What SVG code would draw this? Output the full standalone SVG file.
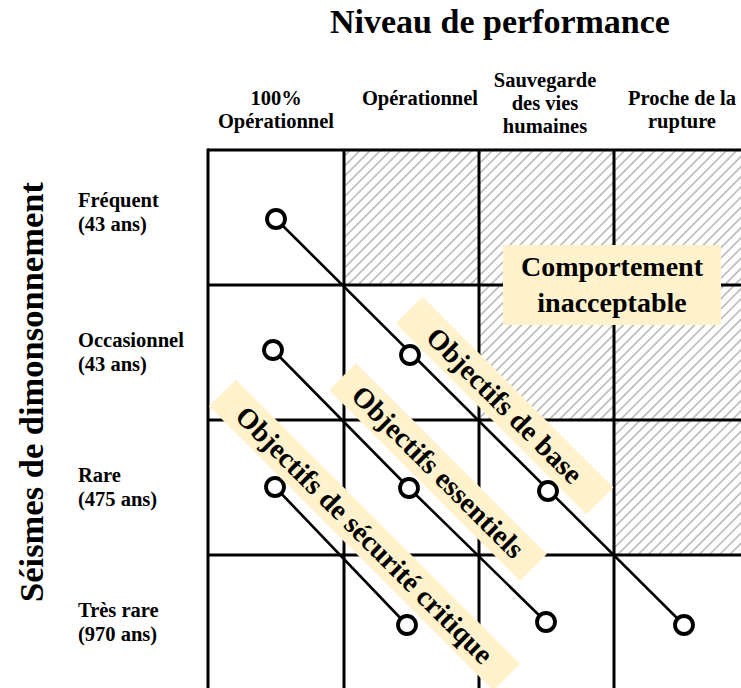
<svg xmlns="http://www.w3.org/2000/svg" width="741" height="688" viewBox="0 0 741 688">
<style>
.t{font-family:"Liberation Serif","Times New Roman",serif;font-weight:bold;fill:#000}
.sm{font-size:20.5px}
.hd{text-anchor:middle}
.grid{stroke:#000;stroke-width:3;fill:none}
.conn{stroke:#000;stroke-width:2.6;fill:none}
.pt{fill:#fff;stroke:#000;stroke-width:3.8}
.box{fill:#FFF2CC}
.lab{font-size:28.5px;text-anchor:middle}
</style>
<defs>
<pattern id="hatch" patternUnits="userSpaceOnUse" width="7.2" height="7.2" patternTransform="rotate(45)">
<line x1="1" y1="-1" x2="1" y2="8.2" stroke="#b4b4b4" stroke-width="1.5"/>
</pattern>
</defs>
<rect width="741" height="688" fill="#fff"/>
<g id="title"><text class="t" x="500" y="33" font-size="34" text-anchor="middle">Niveau de performance</text></g>
<g id="axis-y"><text class="t" transform="translate(43,392) rotate(-90)" font-size="34.5" text-anchor="middle">Séismes de dimonsonnement</text></g>
<g id="col-headers">
<text class="t sm hd" x="276" y="105">100%</text>
<text class="t sm hd" x="276" y="128">Opérationnel</text>
<text class="t sm hd" x="420" y="105">Opérationnel</text>
<text class="t sm hd" x="545" y="87">Sauvegarde</text>
<text class="t sm hd" x="545" y="110">des vies</text>
<text class="t sm hd" x="545" y="133">humaines</text>
<text class="t sm hd" x="682" y="105">Proche de la</text>
<text class="t sm hd" x="682" y="128">rupture</text>
</g>
<g id="row-headers">
<text class="t sm" x="78" y="207">Fréquent</text>
<text class="t sm" x="78" y="231">(43 ans)</text>
<text class="t sm" x="78" y="347">Occasionnel</text>
<text class="t sm" x="78" y="371">(43 ans)</text>
<text class="t sm" x="78" y="482">Rare</text>
<text class="t sm" x="78" y="506">(475 ans)</text>
<text class="t sm" x="78" y="617">Très rare</text>
<text class="t sm" x="78" y="641">(970 ans)</text>
</g>
<g id="hatched">
<rect x="344" y="150" width="397" height="135" fill="url(#hatch)"/>
<rect x="479" y="285" width="262" height="135" fill="url(#hatch)"/>
<rect x="614" y="420" width="127" height="135" fill="url(#hatch)"/>
</g>
<g id="grid">
<line class="grid" x1="208" y1="150" x2="741" y2="150"/>
<line class="grid" x1="208" y1="285" x2="741" y2="285"/>
<line class="grid" x1="208" y1="420" x2="741" y2="420"/>
<line class="grid" x1="208" y1="555" x2="741" y2="555"/>
<line class="grid" x1="208" y1="148.5" x2="208" y2="688"/>
<line class="grid" x1="344" y1="150" x2="344" y2="688"/>
<line class="grid" x1="479" y1="150" x2="479" y2="688"/>
<line class="grid" x1="614" y1="150" x2="614" y2="688"/>
</g>
<g id="connectors">
<path class="conn" d="M276,219 L684,625"/>
<path class="conn" d="M273,350 L409,488 L546,622"/>
<path class="conn" d="M275,487 L407,625"/>
</g>
<g id="points">
<circle class="pt" cx="276" cy="219" r="9"/>
<circle class="pt" cx="410" cy="355" r="9"/>
<circle class="pt" cx="548" cy="491" r="9"/>
<circle class="pt" cx="684" cy="625" r="9"/>
<circle class="pt" cx="273" cy="350" r="9"/>
<circle class="pt" cx="409" cy="488" r="9"/>
<circle class="pt" cx="546" cy="622" r="9"/>
<circle class="pt" cx="275" cy="487" r="9"/>
<circle class="pt" cx="407" cy="625" r="9"/>
</g>
<g id="comportement">
<rect class="box" x="503" y="245" width="218" height="80"/>
<text class="t hd" x="612" y="276" font-size="28">Comportement</text>
<text class="t hd" x="612" y="312" font-size="28">inacceptable</text>
</g>
<g id="obj-base" transform="translate(504.5,405.5) rotate(45)">
<rect class="box" x="-135" y="-19" width="270" height="38"/>
<text class="t lab" x="0" y="9.5">Objectifs de base</text>
</g>
<g id="obj-essentiels" transform="translate(438,472) rotate(45)">
<rect class="box" x="-135" y="-19" width="270" height="38"/>
<text class="t lab" x="0" y="9.5">Objectifs essentiels</text>
</g>
<g id="obj-securite" transform="translate(364.5,535) rotate(45)">
<rect class="box" x="-201" y="-19" width="402" height="38"/>
<text class="t lab" x="0" y="9.5">Objectifs de sécurité critique</text>
</g>
</svg>
